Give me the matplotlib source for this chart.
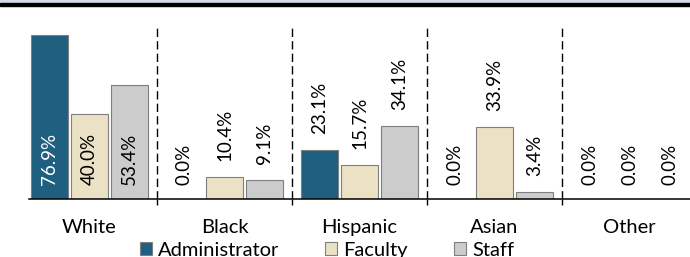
import matplotlib
matplotlib.use("Agg")
import matplotlib.pyplot as plt
from matplotlib.patches import Rectangle
import numpy as np

plt.rcParams['font.family'] = ['Lato', 'DejaVu Sans']

groups = ["White", "Black", "Hispanic", "Asian", "Other"]
series = ["Administrator", "Faculty", "Staff"]
administrator = [76.9, 0.0, 23.1, 0.0, 0.0]
faculty = [40.0, 10.4, 15.7, 33.9, 0.0]
staff = [53.4, 9.1, 34.1, 3.4, 0.0]
colors = ["#1f5f80", "#ebe1c5", "#cccccc"]

fig = plt.figure(figsize=(6.9, 2.57), dpi=100)
ax = fig.add_axes([29/690, 1 - 199/257, 661/690, (199 - 28)/257])

# cropped title band at the top
fig.patches.append(Rectangle((0, 1 - 3/257), 1, 3/257, transform=fig.transFigure,
                             color="#d6dae3", zorder=0))
fig.patches.append(Rectangle((0, 1 - 6/257), 1, 3/257, transform=fig.transFigure,
                             color="black", zorder=0))

x = np.arange(len(groups))
width = 37/135
step = 40/135
fs = 13.5
fs2 = 14.5

for i, (name, vals) in enumerate(zip(series, [administrator, faculty, staff])):
    pos = x + (i - 1) * step
    ax.bar(pos, vals, width, color=colors[i], edgecolor="#7f7f7f", linewidth=0.8,
           label=name, zorder=2)
    for g, (p, v) in enumerate(zip(pos, vals)):
        if g == 0:
            # white group labels sit inside the bar at its base
            ax.annotate(f"{v:.1f}%", (p, 0), xytext=(0, 10), textcoords="offset points",
                        rotation=90, ha="center", va="bottom", fontsize=fs,
                        color="white" if i == 0 else "black", zorder=3)
        else:
            off = 10 if v == 0 else 11.5
            ax.annotate(f"{v:.1f}%", (p, v), xytext=(0, off), textcoords="offset points",
                        rotation=90, ha="center", va="bottom", fontsize=fs, zorder=3)

seps = x[:-1] + 0.5
ax.vlines(seps, 0, 80, colors="black", linestyles=(0, (6, 3)), linewidth=1.0, zorder=1)

ax.set_xlim(-0.448, 4.448)
ax.set_ylim(0, 80)
ax.set_xticks(x)
ax.set_xticklabels(groups, fontsize=fs2)
ax.tick_params(axis="x", which="major", length=0, pad=14.5)
ax.set_xticks(seps, minor=True)
ax.tick_params(axis="x", which="minor", length=4.5, width=1.0, direction="out", color="black")
ax.set_yticks([])
for s in ["top", "right", "left"]:
    ax.spines[s].set_visible(False)
ax.spines["bottom"].set_linewidth(1.1)
ax.spines["bottom"].set_color("black")

fig.legend(loc="center", bbox_to_anchor=(0.474, 0.027), ncol=3, frameon=False,
           fontsize=fs2, handlelength=0.6, handleheight=0.6, handletextpad=0.3,
           columnspacing=2.3, borderaxespad=0, borderpad=0)

fig.savefig("out.png", dpi=100)
